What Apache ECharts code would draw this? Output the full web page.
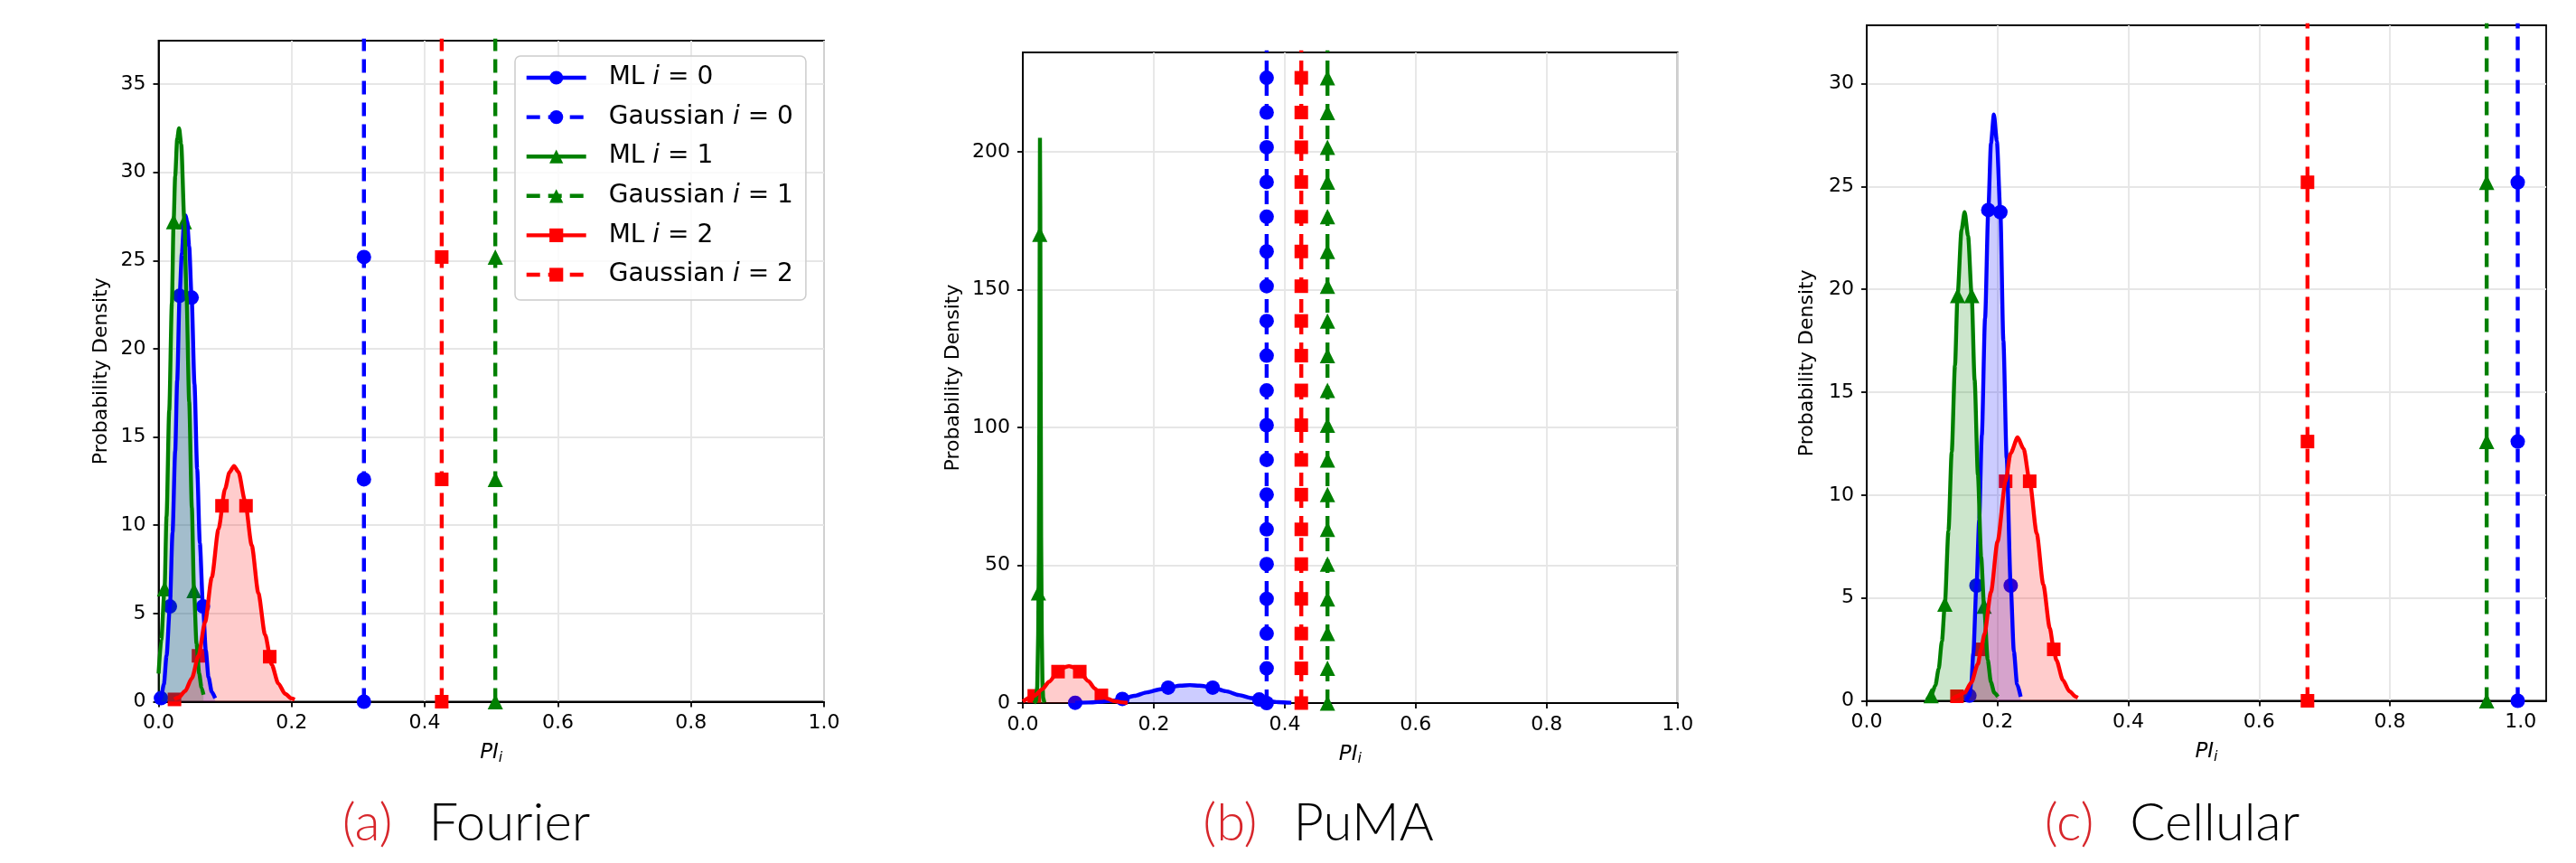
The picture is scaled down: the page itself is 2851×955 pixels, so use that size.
<!DOCTYPE html>
<html>
<head>
<meta charset="utf-8">
<title>PI_i probability densities</title>
<script src="https://cdn.jsdelivr.net/npm/echarts@6/dist/echarts.min.js"></script>
<style>
  html, body { margin: 0; padding: 0; background: #fff; }
  #chart { width: 2851px; height: 955px; }
</style>
</head>
<body>
<div id="chart"></div>
<script>
// ---- values ----
const seriesNames = ['ML i=0', 'Gaussian i=0', 'ML i=1', 'Gaussian i=1', 'ML i=2', 'Gaussian i=2'];
const captions = [['(a)', 'Fourier'], ['(b)', 'PuMA'], ['(c)', 'Cellular']];

const xTicks = [0, 0.2, 0.4, 0.6, 0.8, 1.0];
const yTicksFourier = [0, 5, 10, 15, 20, 25, 30, 35];
const yTicksPuma = [0, 50, 100, 150, 200];
const yTicksCellular = [0, 5, 10, 15, 20, 25, 30];

// (a) Fourier
const fourierML0 = [[0.0, 0.05], [0.0036, 0.2], [0.008, 1.0], [0.012, 2.6], [0.017, 5.4], [0.021, 9.6], [0.025, 14.2],
  [0.028, 18.2], [0.0316, 23.0], [0.035, 25.4], [0.038, 27.0], [0.0406, 27.55], [0.043, 27.2], [0.046, 25.8],
  [0.0497, 22.9], [0.054, 18.0], [0.058, 13.2], [0.062, 9.0], [0.0668, 5.4], [0.071, 2.9], [0.075, 1.4],
  [0.080, 0.55], [0.085, 0.2]];
const fourierML0Marks = [[0.0036, 0.2], [0.017, 5.4], [0.0316, 23.0], [0.0497, 22.9], [0.0668, 5.4]];
const fourierML1 = [[0.0, 1.6], [0.004, 3.5], [0.009, 6.4], [0.012, 10.5], [0.016, 16.5], [0.020, 22.6], [0.0226, 27.2],
  [0.025, 29.8], [0.028, 31.9], [0.0308, 32.5], [0.034, 31.6], [0.0388, 27.2], [0.042, 23.0], [0.046, 17.0],
  [0.050, 11.0], [0.0533, 6.3], [0.057, 3.3], [0.061, 1.6], [0.0645, 0.8], [0.0675, 0.4]];
const fourierML1Marks = [[0.009, 6.4], [0.0226, 27.2], [0.0388, 27.2], [0.0533, 6.3]];
const fourierML2 = [[0.0235, 0.13], [0.030, 0.24], [0.040, 0.6], [0.050, 1.33], [0.060, 2.6], [0.070, 4.53],
  [0.080, 7.05], [0.090, 9.77], [0.100, 12.07], [0.1065, 13.0], [0.1133, 13.36], [0.120, 13.02], [0.130, 11.37],
  [0.140, 8.86], [0.150, 6.15], [0.160, 3.8], [0.170, 2.1], [0.180, 1.03], [0.190, 0.45], [0.200, 0.18], [0.2045, 0.12]];
const fourierML2Marks = [[0.0239, 0.13], [0.060, 2.6], [0.0953, 11.1], [0.1314, 11.1], [0.167, 2.55]];
const fourierGaussX = [0.3086, 0.506, 0.4255];
const fourierGaussY = [0, 12.6, 25.2, 37.8];

// (b) PuMA
const pumaML0 = [[0.080, 0.1], [0.10, 0.2], [0.12, 0.45], [0.14, 0.95], [0.152, 1.5], [0.17, 2.6], [0.19, 3.9],
  [0.21, 5.0], [0.222, 5.6], [0.24, 6.3], [0.255, 6.5], [0.27, 6.3], [0.29, 5.6], [0.31, 4.3], [0.33, 2.9],
  [0.35, 1.8], [0.361, 1.3], [0.375, 0.7], [0.39, 0.35], [0.41, 0.12]];
const pumaML0Marks = [[0.080, 0.1], [0.152, 1.5], [0.222, 5.6], [0.290, 5.6], [0.361, 1.3]];
const pumaML1 = [[0.017, 0], [0.020, 0.8], [0.022, 6], [0.0235, 25], [0.0245, 55], [0.0252, 100], [0.0258, 170],
  [0.0262, 205], [0.0267, 180], [0.0273, 120], [0.028, 60], [0.029, 25], [0.030, 8], [0.031, 2], [0.033, 0.2]];
const pumaML1Marks = [[0.0239, 40], [0.0259, 170]];
const pumaML2 = [[0.0, 0.6], [0.0175, 2.6], [0.030, 5.05], [0.040, 7.7], [0.0538, 11.4], [0.062, 12.9],
  [0.0705, 13.4], [0.079, 12.9], [0.087, 11.4], [0.100, 8.0], [0.110, 5.3], [0.120, 2.8], [0.130, 1.5],
  [0.140, 0.7], [0.150, 0.3], [0.160, 0.1]];
const pumaML2Marks = [[0.0175, 2.6], [0.0538, 11.4], [0.087, 11.4], [0.120, 2.8]];
const pumaGaussX = [0.3724, 0.4653, 0.4253];
const pumaGaussY = [0, 12.6, 25.2, 37.8, 50.4, 63, 75.6, 88.2, 100.8, 113.4, 126, 138.6, 151.2, 163.8,
  176.4, 189, 201.6, 214.2, 226.8, 239.4];

// (c) Cellular
const cellML0 = [[0.152, 0.0], [0.157, 0.25], [0.160, 0.9], [0.163, 2.3], [0.1678, 5.6], [0.172, 8.8], [0.176, 12.9],
  [0.181, 18.6], [0.1859, 23.85], [0.190, 27.1], [0.1945, 28.5], [0.199, 27.2], [0.2044, 23.75], [0.209, 17.5],
  [0.214, 11.8], [0.2202, 5.6], [0.225, 2.4], [0.230, 0.8], [0.2354, 0.2]];
const cellML0Marks = [[0.157, 0.25], [0.1678, 5.6], [0.1859, 23.85], [0.2044, 23.75], [0.2202, 5.6]];
const cellML1 = [[0.092, 0.05], [0.0984, 0.25], [0.105, 0.75], [0.110, 1.55], [0.115, 2.9], [0.1195, 4.7],
  [0.125, 8.27], [0.130, 12.1], [0.135, 16.3], [0.1389, 19.7], [0.145, 22.9], [0.1497, 23.75], [0.155, 22.6],
  [0.1605, 19.7], [0.165, 15.6], [0.170, 11.0], [0.175, 7.0], [0.1795, 4.6], [0.185, 2.0], [0.190, 0.9],
  [0.195, 0.4], [0.2005, 0.2]];
const cellML1Marks = [[0.0984, 0.25], [0.1195, 4.7], [0.1389, 19.7], [0.1605, 19.7], [0.1795, 4.6]];
const cellML2 = [[0.130, 0.06], [0.138, 0.22], [0.150, 0.4], [0.160, 0.89], [0.170, 1.79], [0.1747, 2.5],
  [0.180, 3.24], [0.190, 5.28], [0.200, 7.73], [0.2124, 10.67], [0.220, 12.03], [0.2308, 12.8], [0.240, 12.24],
  [0.2492, 10.67], [0.260, 8.13], [0.270, 5.65], [0.280, 3.53], [0.286, 2.5], [0.290, 1.98], [0.300, 1.0],
  [0.310, 0.46], [0.320, 0.19], [0.3228, 0.15]];
const cellML2Marks = [[0.138, 0.22], [0.1747, 2.5], [0.2124, 10.67], [0.2492, 10.67], [0.286, 2.5]];
const cellGaussX = [0.9955, 0.948, 0.674];
const cellGaussY = [0, 12.6, 25.2, 37.8];

// ---- layout / style ----
const panels = [
  { ml: [fourierML0, fourierML1, fourierML2], marks: [fourierML0Marks, fourierML1Marks, fourierML2Marks],
    gx: fourierGaussX, gy: fourierGaussY, yTicks: yTicksFourier,
    left: 175.5, top: 45, width: 736.5, height: 731.5, xMax: 1, yMax: 37.46, yGap: 52, capX: 516 },
  { ml: [pumaML0, pumaML1, pumaML2], marks: [pumaML0Marks, pumaML1Marks, pumaML2Marks],
    gx: pumaGaussX, gy: pumaGaussY, yTicks: yTicksPuma,
    left: 1132, top: 58, width: 724.7, height: 720, xMax: 1, yMax: 236, yGap: 66, capX: 1459 },
  { ml: [cellML0, cellML1, cellML2], marks: [cellML0Marks, cellML1Marks, cellML2Marks],
    gx: cellGaussX, gy: cellGaussY, yTicks: yTicksCellular,
    left: 2066, top: 28, width: 752, height: 747.5, xMax: 1.039, yMax: 32.83, yGap: 55, capX: 2404 },
];

const colors = ['#0000ff', '#008000', '#ff0000'];
const symbols = ['circle', 'triangle', 'rect'];
const symSizes = [16, 17, 15];
const LW = 4.4;
const FONT = 'DejaVu Sans';

const series = [];
panels.forEach((p, k) => {
  for (let i = 0; i < 3; i++) {
    const smooth = k === 1 && i === 1 ? false : 0.25;
    // translucent fill under the ML density
    series.push({
      type: 'line', xAxisIndex: k, yAxisIndex: k,
      data: p.ml[i], symbol: 'none', smooth: smooth, smoothMonotone: 'x',
      lineStyle: { width: 0, opacity: 0 },
      areaStyle: { color: colors[i], opacity: 0.2 },
      emphasis: { disabled: true }, silent: true
    });
    // ML density curve
    series.push({
      name: k === 0 ? seriesNames[2 * i] : 'p' + k + ' ML' + i,
      type: 'line', xAxisIndex: k, yAxisIndex: k,
      data: p.ml[i],
      symbol: symbols[i], symbolSize: symSizes[i], showSymbol: false,
      smooth: smooth, smoothMonotone: 'x',
      lineStyle: { color: colors[i], width: LW, type: 'solid' },
      itemStyle: { color: colors[i] },
      emphasis: { disabled: true }
    });
    series.push({
      type: 'scatter', xAxisIndex: k, yAxisIndex: k,
      data: p.marks[i],
      symbol: symbols[i], symbolSize: symSizes[i],
      itemStyle: { color: colors[i], opacity: 1 },
      emphasis: { disabled: true }, silent: true
    });
    // Gaussian estimate: vertical dashed line
    series.push({
      name: k === 0 ? seriesNames[2 * i + 1] : 'p' + k + ' G' + i,
      type: 'line', xAxisIndex: k, yAxisIndex: k,
      data: p.gy.map(y => [p.gx[i], y]),
      symbol: symbols[i], symbolSize: symSizes[i], showSymbol: true,
      lineStyle: { color: colors[i], width: LW, type: [15, 9] },
      itemStyle: { color: colors[i] },
      emphasis: { disabled: true }
    });
  }
});

const chart = echarts.init(document.getElementById('chart'));
chart.setOption({
  animation: false,
  backgroundColor: '#fff',
  grid: panels.map(p => ({
    left: p.left, top: p.top, width: p.width, height: p.height,
    show: true, borderColor: '#000', borderWidth: 1.8, backgroundColor: 'transparent'
  })),
  xAxis: panels.map((p, k) => ({
    type: 'value', gridIndex: k, min: 0, max: p.xMax, interval: 0.2,
    axisLine: { show: true, onZero: false, lineStyle: { color: '#000', width: 1.8 } },
    axisTick: { show: true, length: 6, lineStyle: { color: '#000', width: 1.8 }, customValues: xTicks },
    axisLabel: { customValues: xTicks, formatter: v => v.toFixed(1), fontFamily: FONT, fontSize: 22, color: '#000', margin: 13 },
    splitLine: { show: true, showMinLine: false, showMaxLine: k !== 2, lineStyle: { color: '#e6e6e6', width: 1.8 } },
    name: '{p|PI}{s|i}', nameLocation: 'middle', nameGap: 44,
    nameTextStyle: {
      rich: {
        p: { fontFamily: FONT, fontStyle: 'italic', fontSize: 23, lineHeight: 26, color: '#000' },
        s: { fontFamily: FONT, fontStyle: 'italic', fontSize: 16, lineHeight: 14, verticalAlign: 'bottom', color: '#000' }
      }
    }
  })),
  yAxis: panels.map((p, k) => ({
    type: 'value', gridIndex: k, min: 0, max: p.yMax, interval: p.yTicks[1],
    axisLine: { show: true, lineStyle: { color: '#000', width: 1.8 } },
    axisTick: { show: true, length: 6, lineStyle: { color: '#000', width: 1.8 }, customValues: p.yTicks },
    axisLabel: { customValues: p.yTicks, fontFamily: FONT, fontSize: 22, color: '#000', margin: 14 },
    splitLine: { show: true, showMinLine: false, lineStyle: { color: '#e6e6e6', width: 1.8 } },
    name: 'Probability Density', nameLocation: 'middle', nameGap: p.yGap,
    nameTextStyle: { fontFamily: FONT, fontSize: 22, color: '#000' }
  })),
  legend: {
    data: seriesNames, orient: 'vertical', left: 570, top: 62,
    itemWidth: 66, itemHeight: 19, itemGap: 15.6,
    padding: [10, 14, 14, 10.5],
    backgroundColor: 'rgba(255,255,255,0.8)', borderColor: '#cccccc', borderWidth: 1.5, borderRadius: 6,
    selectedMode: false,
    lineStyle: { width: LW },
    formatter: name => {
      const parts = name.split(' i=');
      return '{t|' + parts[0] + ' }{m|i}{t| = ' + parts[1] + '}';
    },
    textStyle: {
      padding: [0, 0, 0, 20],
      rich: {
        t: { fontFamily: FONT, fontSize: 28, lineHeight: 30, color: '#000' },
        m: { fontFamily: FONT, fontSize: 28, lineHeight: 30, fontStyle: 'italic', color: '#000' }
      }
    }
  },
  graphic: panels.map((p, k) => ({
    type: 'text', x: p.capX, y: 911, silent: true,
    style: {
      text: '{r|' + captions[k][0] + '}{t|' + captions[k][1] + '}',
      align: 'center', verticalAlign: 'middle',
      rich: {
        r: { fontFamily: 'Lato', fontWeight: 300, fontSize: 58, lineHeight: 66, fill: '#d7262b', color: '#d7262b' },
        t: { fontFamily: 'Lato', fontWeight: 300, fontSize: 58, lineHeight: 66, fill: '#000', color: '#000', padding: [0, 0, 0, 40] }
      }
    }
  })),
  series: series
});
</script>
</body>
</html>
